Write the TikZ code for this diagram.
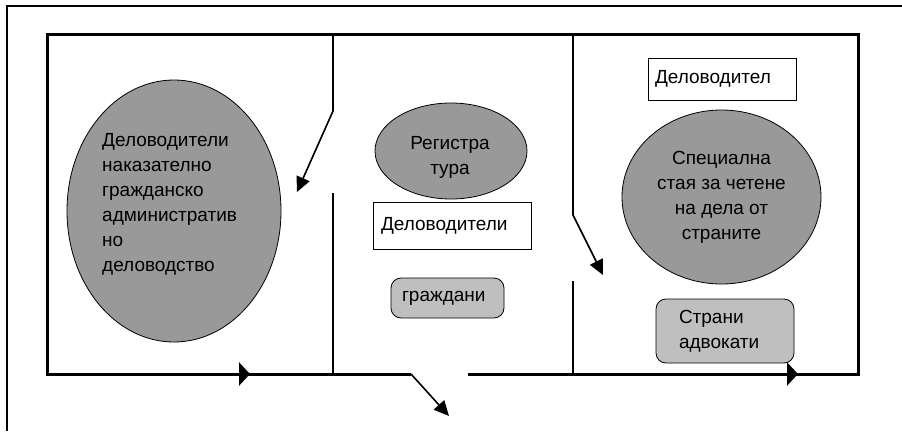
\documentclass[tikz,border=0pt]{standalone}
\usepackage{fontspec}
\setmainfont{Liberation Sans}
\usetikzlibrary{shapes.geometric,arrows.meta,decorations.markings}
\definecolor{roomgray}{gray}{0.6}
\definecolor{deskgray}{gray}{0.75}
\tikzset{
  wall/.style={line width=3pt},
  partition/.style={line width=1.3pt},
  door/.style={line width=1.6pt,-{Triangle[length=15pt,width=14pt]}},
  flowmark/.style={postaction={decorate,decoration={markings,
      mark=at position #1 with {\arrow{Triangle[length=11pt,width=23pt]}}}}},
  hall/.style={ellipse,draw,line width=0.8pt,fill=roomgray,inner sep=0pt,align=center},
  desk/.style={draw,fill=white,line width=1pt,align=left},
  counter/.style={draw,fill=deskgray,line width=0.8pt,rounded corners=10pt,align=left},
  lbl/.style={inner sep=0pt}
}
\begin{document}
\begin{tikzpicture}[x=1pt,y=-1pt,font=\fontsize{19}{25}\selectfont]
            \useasboundingbox (0,0) rectangle (902,431);
            \draw[line width=1.5pt] (7,431) -- (7,6) -- (902,6);
            \draw[wall,flowmark=330pt,flowmark=2084pt] (468,374) -- (858,374) -- (858,34) -- (47,34) -- (47,374) -- (411,374);
            \draw[partition,door] (333,34) -- (333,111) -- (297,192);
            \draw[partition] (333,193) -- (333,374);
            \draw[partition,door] (573,34) -- (573,215) -- (603,275);
            \draw[partition] (573,281) -- (573,374);
            \draw[door] (411,374) -- (449,416);
            \node[hall,minimum width=214pt,minimum height=262pt] (clerks) at (174,211) {};
            \node[lbl,anchor=west,align=left] (clerkslbl) at (102,204.5) {Деловодители\\наказателно\\гражданско\\административ\\но\\деловодство};
            \node[hall,minimum width=152pt,minimum height=96pt] (registry) at (451,151) {};
            \node[lbl,align=center] (registrylbl) at (450,157.5) {Регистра\\тура};
            \node[desk,text width=142pt,inner xsep=8pt,minimum height=47pt] (clerkdesk) at (452,225.5) {Деловодители};
            \node[counter,text width=91pt,inner xsep=11pt,minimum height=40pt] (citizens) at (447.5,298) {граждани};
            \node[desk,text width=134pt,inner xsep=7pt,minimum height=42pt] (readclerk) at (722,79) {Деловодител};
            \node[hall,minimum width=199pt,minimum height=174pt] (readroom) at (721.5,197) {Специална\\стая за четене\\на дела от\\страните};
            \node[counter,text width=92pt,inner xsep=23pt,minimum height=64pt] (lawyers) at (725,331) {Страни\\адвокати};
        \end{tikzpicture}
\end{document}
